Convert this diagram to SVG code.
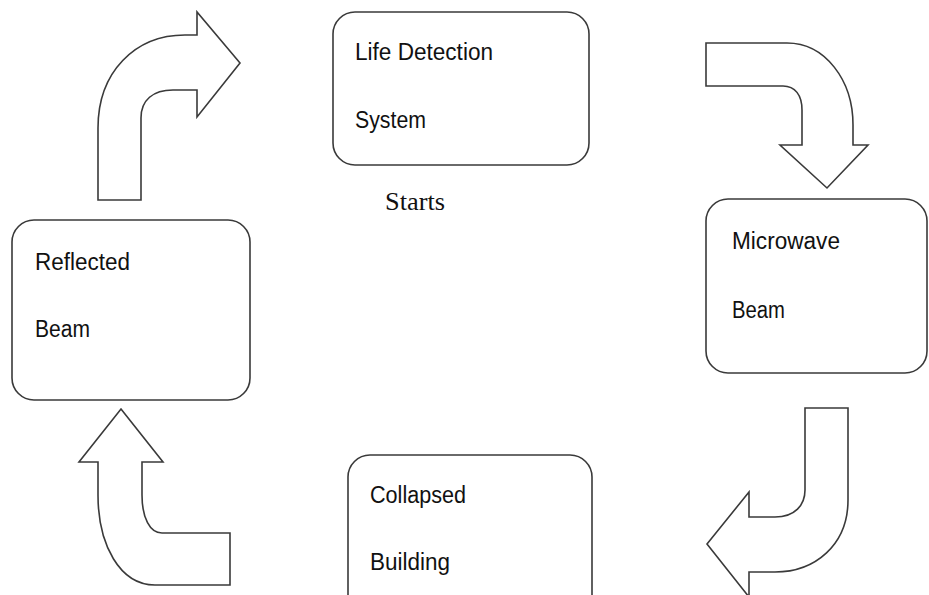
<svg xmlns="http://www.w3.org/2000/svg" width="929" height="595" viewBox="0 0 929 595">
<style>
.box{fill:#fff;stroke:#3a3a3a;stroke-width:1.6}
.arr{fill:#fff;stroke:#3a3a3a;stroke-width:1.6;stroke-linejoin:miter}
.lbl{font-family:"Liberation Sans",Arial,sans-serif;font-size:23px;fill:#111}
.cap{font-family:"Liberation Serif","Times New Roman",serif;font-size:26px;fill:#111}
</style>
<rect width="929" height="595" fill="#fff"/>
<g id="connectors">
<path class="arr" d="M98,200 L98,128 C98,72 135,35 185,35 L197,35 L197,12 L240,63 L197,117 L197,90 L173,90 C153,90 141,100 141,118 L141,200 Z"/>
<path class="arr" d="M706,43 L787,43 C825,43 853,80 853,125 L853,145 L868,145 L827,188 L780,145 L802,145 L802,110 C802,95 795,86 783,86 L706,86 Z"/>
<path class="arr" d="M805,408 L848,408 L848,500 C848,545 815,572 775,572 L749,572 L749,597 L707,544 L749,492 L749,517 L775,517 C795,517 805,505 805,490 Z"/>
<path class="arr" d="M121,409 L163,462 L142,462 L142,495 C142,518 150,533 162,533 L230,533 L230,585 L155,585 C120,585 98,545 98,495 L98,462 L79,462 Z"/>
</g>
<g id="node-life">
<rect class="box" x="333" y="12" width="256" height="153" rx="22"/>
<text class="lbl" x="355" y="60" textLength="138" lengthAdjust="spacingAndGlyphs">Life Detection</text>
<text class="lbl" x="355" y="128" textLength="71" lengthAdjust="spacingAndGlyphs">System</text>
</g>
<g id="label-starts">
<text class="cap" x="385" y="210" textLength="60" lengthAdjust="spacingAndGlyphs">Starts</text>
</g>
<g id="node-microwave">
<rect class="box" x="706" y="199" width="221" height="174" rx="22"/>
<text class="lbl" x="732" y="249" textLength="108" lengthAdjust="spacingAndGlyphs">Microwave</text>
<text class="lbl" x="732" y="318" textLength="53" lengthAdjust="spacingAndGlyphs">Beam</text>
</g>
<g id="node-collapsed">
<rect class="box" x="348" y="455" width="244" height="170" rx="22"/>
<text class="lbl" x="370" y="503" textLength="96" lengthAdjust="spacingAndGlyphs">Collapsed</text>
<text class="lbl" x="370" y="570" textLength="80" lengthAdjust="spacingAndGlyphs">Building</text>
</g>
<g id="node-reflected">
<rect class="box" x="12" y="220" width="238" height="180" rx="22"/>
<text class="lbl" x="35" y="270" textLength="95" lengthAdjust="spacingAndGlyphs">Reflected</text>
<text class="lbl" x="35" y="337" textLength="55" lengthAdjust="spacingAndGlyphs">Beam</text>
</g>
</svg>
